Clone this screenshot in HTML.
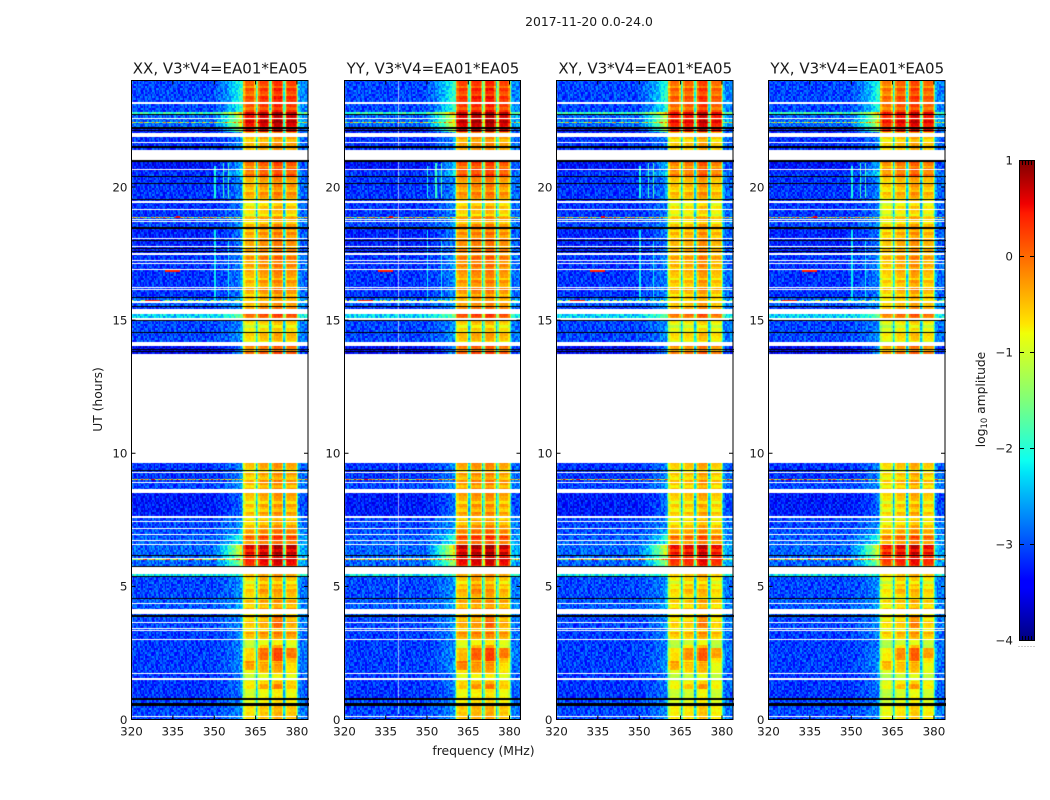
<!DOCTYPE html>
<html lang="en">
<head>
<meta charset="utf-8">
<title>2017-11-20 0.0-24.0</title>
<style>
html,body{margin:0;padding:0;background:#fff;}
#figure{position:relative;width:1050px;height:800px;overflow:hidden;background:#fff;}
#figure canvas{position:absolute;display:block;}
#overlay{position:absolute;left:0;top:0;}
text{font-family:"DejaVu Sans","Liberation Sans",sans-serif;fill:#1a1a1a;}
</style>
</head>
<body>
<div id="figure">
<svg id="overlay" width="1050" height="800" xmlns="http://www.w3.org/2000/svg">
  <defs>
    <linearGradient id="jetGradient" x1="0" y1="1" x2="0" y2="0">
      <stop offset="0" stop-color="#00007f"/>
      <stop offset="0.11" stop-color="#0000ff"/>
      <stop offset="0.125" stop-color="#0000ff"/>
      <stop offset="0.35" stop-color="#00e5f7"/>
      <stop offset="0.375" stop-color="#0dfff0"/>
      <stop offset="0.5" stop-color="#7fff7a"/>
      <stop offset="0.64" stop-color="#f0ff07"/>
      <stop offset="0.66" stop-color="#ffe500"/>
      <stop offset="0.89" stop-color="#ff1a00"/>
      <stop offset="0.91" stop-color="#f00000"/>
      <stop offset="1" stop-color="#7f0000"/>
    </linearGradient>
  </defs>
  <text x="589" y="26" font-size="12.4" text-anchor="middle">2017-11-20 0.0-24.0</text>
  <text transform="translate(102,399.5) rotate(-90)" font-size="12.3" text-anchor="middle">UT (hours)</text>
  <text x="483.5" y="755" font-size="12.4" text-anchor="middle">frequency (MHz)</text>
  <text transform="translate(985,399.5) rotate(-90)" font-size="12.3" text-anchor="middle">log<tspan font-size="8.4" dy="2">10</tspan><tspan dy="-2"> amplitude</tspan></text>
  <rect x="1019.5" y="160.5" width="15" height="480" fill="url(#jetGradient)" stroke="#000" stroke-width="1"/>
</svg>
</div>
<script>
// Panel names
const panelTitles = ["XX, V3*V4=EA01*EA05", "YY, V3*V4=EA01*EA05", "XY, V3*V4=EA01*EA05", "YX, V3*V4=EA01*EA05"];
// Axis ticks
const freqTicks = [320, 335, 350, 365, 380];
const hourTicks = [0, 5, 10, 15, 20];
const colorbarTicks = [1, 0, -1, -2, -3, -4];
// Scan blocks, listed from 24 h downward: the hour each block starts, with log10 levels
const blockTopHours = [24.0, 22.8, 22.7, 22.2, 22.05, 21.49, 20.96, 20.6, 20.36, 20.1, 19.5, 18.86, 18.41, 17.44, 16.87, 15.83, 15.53, 15.24, 15.07, 14.96, 14.5, 14.03, 9.64, 8.89, 8.51, 7.58, 7.13, 6.94, 6.71, 6.56, 6.15, 5.74, 5.46, 5.36, 5.06, 4.54, 3.83, 3.34, 3.0, 2.7, 2.14, 1.73, 1.43, 1.16, 0.75, 0.49];
const blockLowLevels = [-3.05, -1.9, -2.9, -3.35, -3.15, -3.15, -3.35, -3.15, -3.15, -3.15, -3.15, -3.05, -3.25, -3.15, -3.15, -2.95, -3.15, -2.35, -2.95, -3.05, -3.05, -3.45, -3.15, -3.05, -3.3, -3.05, -3.0, -2.95, -2.9, -2.9, -2.9, -2.9, -2.2, -3.05, -3.05, -2.95, -3.05, -3.1, -3.1, -3.1, -3.1, -3.15, -3.15, -3.15, -3.05, -3.05];
const blockHighLevels = [0.15, 0.7, 0.6, 0.55, -0.4, -0.4, 0.0, 0.05, -0.3, -0.35, -0.6, -0.45, -0.25, -0.25, -0.35, -0.4, -0.2, 0.1, -0.6, -0.7, -0.55, -0.1, -0.4, -0.35, -0.45, -0.45, -0.15, 0.1, 0.0, 0.65, 0.45, 0.4, -0.2, -0.6, -0.5, -0.4, -0.45, -0.3, -0.9, -0.45, -0.65, -0.9, -0.55, -0.8, -0.7, -0.5];
// Relative response of each 0.5 MHz channel, 320 to 383.5 MHz
const channelGain = [0,0,0,0,0,0,0,0,0,0,0,0,0,0,0,0,0,0,0,0,0,0,0,0,0,0,0,0,0,0,0,0,0,0,0,0,0,0,0,0,0,0,0,0,0,0,0,0,0,0,0,0,0,0,0,0,0,0,0,0,
  0.01,0.015,0.02,0.025,0.03,0.035,0.04,0.05,0.05,0.06,0.07,0.08,0.08,0.09,0.1,0.11,0.12,0.13,0.14,0.16,
  0.35,0.85,0.95,1,1,1,1,1,1,0.85,0.3,0.55,0.92,1,1,1,1,1,1,0.85,0.3,0.55,0.92,1,1,1,1,1,1,0.85,0.3,0.55,0.92,1,1,1,1,1,1,0.9,
  0.45,0.18,0.1,0.1,0.1,0.1,0.1,0.1];
// Level adjustment per polarisation and per 5 MHz sub-band
const panelHighShift = [0, 0.05, -0.12, -0.15];
const subbandShift = [[-0.15, 0, 0.12, 0], [-0.05, 0.05, 0.12, -0.05], [-0.1, -0.05, 0.15, -0.1], [-0.15, 0, 0.15, -0.05]];
// Integration-to-integration changes seen across the bright band
const rowRipple = [0.2, -0.1, 0.15, -0.2, 0.1, 0.25, -0.15, 0, 0.2, -0.25, 0.05, 0.1];
// Broad bright patches in the band: [top hour, bottom hour, sub-band index, level change]
const bandPatches = [[2.8, 2.2, 2, 0.5], [2.8, 2.25, 1, 0.4], [2.7, 2.3, 3, 0.35], [2.2, 1.85, 0, 0.5], [2.15, 1.8, 1, 0.3], [2.15, 1.8, 2, 0.25], [1.35, 1.15, 2, 0.3], [1.35, 1.15, 1, 0.2], [3.9, 3.4, 2, 0.25], [5.3, 4.7, 1, 0.15]];
// Estimated cell-to-cell amplitude scatter, hex digits 0 to f
const scatterTile = ["3a7c15e92b6d048f7","d24f8a06c7e193b5a","71be39d50fa284c6e","a5068ec27b41fd39c","4c91f3b7ae5602d87","e837026dc9b15fa4b","19f5ca847d3e60b29","b6e2047af85d1c93e","58a3dcf1296be0743","c07e6b94135fa8d2b","2fb8417ed0c9a635d","96d3ea5c7042fb18e"];
// Flagged integrations as [top hour, bottom hour]
const whiteGaps = [[23.18,23.13],[22.58,22.54],[22.01,21.86],[21.68,21.64],[21.38,21.01],[20.66,20.63],[19.46,19.39],[19.18,19.14],[18.8,18.77],[18.71,18.68],[18.1,18.06],[17.79,17.75],[17.52,17.44],[17.25,17.21],[17.16,17.12],[16.91,16.88],[16.26,16.22],[16.17,16.14],[15.71,15.66],[15.41,15.24],[15.08,14.98],[14.19,14.04],[13.73,9.64],[9.29,9.25],[8.93,8.89],[8.66,8.52],[7.66,7.58],[7.44,7.4],[7.21,7.14],[6.96,6.93],[6.75,6.71],[6.61,6.57],[6.08,6.04],[5.73,5.48],[4.39,4.35],[4.15,3.98],[3.65,3.62],[3.45,3.42],[3.38,3.33],[3.04,3.0],[1.75,1.71],[1.54,1.5],[0.12,0.08]];
const blackGaps = [[22.73,22.69],[22.24,22.18],[22.14,22.09],[21.53,21.48],[21.0,20.93],[20.42,20.38],[20.14,20.1],[19.54,19.5],[18.51,18.43],[18.0,17.96],[17.7,17.66],[17.61,17.57],[15.86,15.83],[15.54,15.51],[15.02,14.98],[14.55,14.51],[13.93,13.89],[13.84,13.8],[9.38,9.34],[6.18,6.14],[5.78,5.74],[5.38,5.35],[4.58,4.54],[3.94,3.85],[0.79,0.75],[0.62,0.49]];
// Interference: whole-row events [hour, level], narrowband streaks [hour, first MHz, last MHz, level]
const rfiRows = [[22.42, -1.2], [18.87, -0.9], [15.75, -2.0], [9.02, -0.7], [6.02, -0.8]];
const rfiSpots = [[16.85, 332, 337, 0.4], [15.72, 325, 330, 0.35], [18.87, 336, 337, 0.5], [9.02, 327, 328, 0.6]];
// Narrow vertical interference lines [MHz, top hour, bottom hour, level]
const rfiLines = [[350, 20.8, 19.6, -2.1], [353, 20.9, 19.6, -1.9], [355, 20.9, 19.6, -1.8], [350, 18.4, 15.7, -2.2], [355, 18.0, 15.7, -2.2]];
// Vertical flagged channels [panel index, MHz, top hour, bottom hour]
const flaggedChannels = [[1, 339.5, 24, 0.2]];

const PANEL_LEFTS = [131.5, 344.5, 556.5, 768.5];
const PANEL_WIDTHS = [176.5, 176, 176.5, 176.5];
const PANEL_TOP = 80.5;
const PANEL_BOTTOM = 719.5;
const SVG_NS = "http://www.w3.org/2000/svg";
const overlay = document.getElementById("overlay");
const figure = document.getElementById("figure");

function xScale(panel, mhz) {
  return PANEL_LEFTS[panel] + (mhz - 320) / 64 * PANEL_WIDTHS[panel];
}
function yScale(hour) {
  return PANEL_BOTTOM - hour / 24 * (PANEL_BOTTOM - PANEL_TOP);
}
function colorbarY(value) {
  return 640.5 - (value + 4) / 5 * 480;
}
function ramp(t, points) {
  for (let i = 1; i < points.length; i++) {
    if (t <= points[i][0]) {
      const a = points[i - 1], b = points[i];
      return a[1] + (b[1] - a[1]) * (t - a[0]) / (b[0] - a[0]);
    }
  }
  return points[points.length - 1][1];
}
function jet(level) {
  const t = Math.max(0, Math.min(1, (level + 4) / 5));
  const r = ramp(t, [[0, 0], [0.35, 0], [0.66, 1], [0.89, 1], [1, 0.5]]);
  const g = ramp(t, [[0, 0], [0.125, 0], [0.375, 1], [0.64, 1], [0.91, 0], [1, 0]]);
  const b = ramp(t, [[0, 0.5], [0.11, 1], [0.34, 1], [0.65, 0], [1, 0]]);
  return "rgb(" + Math.round(r * 255) + "," + Math.round(g * 255) + "," + Math.round(b * 255) + ")";
}
function blockAt(hour) {
  let index = 0;
  for (let i = 0; i < blockTopHours.length; i++) {
    if (blockTopHours[i] >= hour) index = i;
  }
  return index;
}
function cellLevel(panel, hour, channel) {
  const block = blockAt(hour);
  const mhz = 320 + channel / 2;
  const row = Math.floor(hour * 10);
  const fineRow = Math.floor(hour / 0.075);
  const digits = scatterTile[(fineRow + panel * 5) % scatterTile.length];
  const tileShift = Math.floor(fineRow / scatterTile.length) * 5;
  const scatter = (parseInt(digits[(channel + panel * 7 + tileShift) % digits.length], 16) - 7.5) / 7.5;
  const band = mhz < 365 ? 0 : mhz < 370 ? 1 : mhz < 375 ? 2 : 3;
  let low = blockLowLevels[block] + scatter * 0.4;
  const stripe = hour < 3 ? 0.25 : 0.9;
  let high = blockHighLevels[block] + panelHighShift[panel] + subbandShift[panel][band] + rowRipple[row % rowRipple.length] * stripe + scatter * 0.08;
  bandPatches.forEach(function (item) {
    if (hour <= item[0] && hour >= item[1] && item[2] === band) high += item[3];
  });
  rfiRows.forEach(function (item) {
    if (Math.abs(hour - item[0]) < 0.02) low = item[1] + scatter * 1.3;
  });
  let gain = channelGain[channel];
  if (channel >= 60 && channel < 80) gain *= 1 + Math.max(0, blockHighLevels[block] + 0.2) * 3.5;
  let level = low + (high - low) * gain;
  rfiSpots.forEach(function (item) {
    if (Math.abs(hour - item[0]) < 0.03 && mhz >= item[1] && mhz <= item[2]) level = item[3];
  });
  rfiLines.forEach(function (item) {
    if (item[0] === mhz && hour <= item[1] && hour >= item[2]) level = item[3];
  });
  return level;
}
function svgEl(tag, attrs) {
  const el = document.createElementNS(SVG_NS, tag);
  Object.keys(attrs).forEach(function (key) { el.setAttribute(key, attrs[key]); });
  overlay.appendChild(el);
  return el;
}
function drawHeatmap(panel) {
  const canvas = document.createElement("canvas");
  
  
  const left = Math.floor(PANEL_LEFTS[panel]);
  const top = Math.floor(PANEL_TOP);
  const width = Math.ceil(PANEL_WIDTHS[panel]) + 1;
  const height = Math.ceil(PANEL_BOTTOM - PANEL_TOP) + 1;
  canvas.width = width;
  canvas.height = height;
  canvas.style.left = left + "px";
  canvas.style.top = top + "px";
  figure.insertBefore(canvas, overlay);
  const ctx = canvas.getContext("2d");
  for (let py = 0; py < height; py++) {
    const hour = Math.max(0.001, (PANEL_BOTTOM - (top + py + 0.5)) / (PANEL_BOTTOM - PANEL_TOP) * 24);
    for (let c = 0; c < channelGain.length; c++) {
      const x0 = Math.round(xScale(panel, 320 + c / 2)) - left;
      const x1 = Math.round(xScale(panel, 320 + (c + 1) / 2)) - left;
      ctx.fillStyle = jet(cellLevel(panel, hour, c));
      ctx.fillRect(x0, py, x1 - x0, 1);
    }
  }
  ctx.fillStyle = "rgba(255,255,255,0.6)";
  flaggedChannels.forEach(function (item) {
    if (item[0] !== panel) return;
    const y0 = Math.round(yScale(item[2])) - top;
    const y1 = Math.round(yScale(item[3])) - top;
    ctx.fillRect(Math.round(xScale(panel, item[1])) - left, y0, 1, y1 - y0);
  });
  function paintGaps(gaps, color) {
    ctx.fillStyle = color;
    gaps.forEach(function (gap) {
      const y0 = Math.round(yScale(gap[0])) - top;
      const y1 = Math.round(yScale(gap[1])) - top;
      ctx.fillRect(0, y0, width, Math.max(1, y1 - y0));
    });
  }
  paintGaps(whiteGaps, "#ffffff");
  paintGaps(blackGaps, "#000000");
}

panelTitles.forEach(function (title, panel) {
  drawHeatmap(panel);
  const left = PANEL_LEFTS[panel];
  const right = left + PANEL_WIDTHS[panel];

  const frame = svgEl("rect", {x: left, y: PANEL_TOP, width: PANEL_WIDTHS[panel], height: PANEL_BOTTOM - PANEL_TOP, fill: "none", stroke: "#000", "stroke-width": 1});
  
  

  const heading = svgEl("text", {x: (left + right) / 2 + 0.5, y: 73.5, "font-size": 15, "text-anchor": "middle"});
  heading.textContent = title;
  
  

  freqTicks.forEach(function (tick) {
    const x = xScale(panel, tick);
    const bottomTick = svgEl("line", {x1: x, x2: x, y1: PANEL_BOTTOM, y2: PANEL_BOTTOM - 4, stroke: "#000"});
    
    
    const topTick = svgEl("line", {x1: x, x2: x, y1: PANEL_TOP, y2: PANEL_TOP + 4, stroke: "#000"});
    
    
    const label = svgEl("text", {x: x, y: 735.5, "font-size": 11.9, "text-anchor": "middle"});
    label.textContent = String(tick);
    
    
  });

  hourTicks.forEach(function (tick) {
    const y = yScale(tick);
    if (tick > 0) {
      const leftTick = svgEl("line", {x1: left, x2: left + 4, y1: y, y2: y, stroke: "#000"});
      
      
      const rightTick = svgEl("line", {x1: right, x2: right - 4, y1: y, y2: y, stroke: "#000"});
      
      
    }
    const label = svgEl("text", {x: left - 4, y: y + 4.3, "font-size": 11.9, "text-anchor": "end"});
    label.textContent = String(tick);
    
    
  });
});

colorbarTicks.forEach(function (tick) {
  const y = colorbarY(tick);
  const label = svgEl("text", {x: 1013, y: y + 4, "font-size": 11.9, "text-anchor": "end"});
  label.textContent = String(tick).replace("-", "\u2212");
  
  
  if (tick < 1 && tick > -4) {
    const leftMark = svgEl("line", {x1: 1019.5, x2: 1024, y1: y, y2: y, stroke: "#000"});
    
    
    const rightMark = svgEl("line", {x1: 1030, x2: 1034.5, y1: y, y2: y, stroke: "#000"});
    
    
  }
});

// Short marks and faint dots along the narrow colorbar's horizontal axis
const colorbarEdgeTicks = [0, 0.2, 0.4, 0.6, 0.8, 1];
colorbarEdgeTicks.forEach(function (fraction) {
  const x = 1019.5 + fraction * 15;
  const topMark = svgEl("line", {x1: x, x2: x, y1: 160.5, y2: 165, stroke: "#000"});
  
  
  const bottomMark = svgEl("line", {x1: x, x2: x, y1: 640.5, y2: 636, stroke: "#000"});
  
  
  const dot = svgEl("rect", {x: x - 1, y: 646, width: 1, height: 1, fill: "#999"});
  
  
});
</script>
</body>
</html>
